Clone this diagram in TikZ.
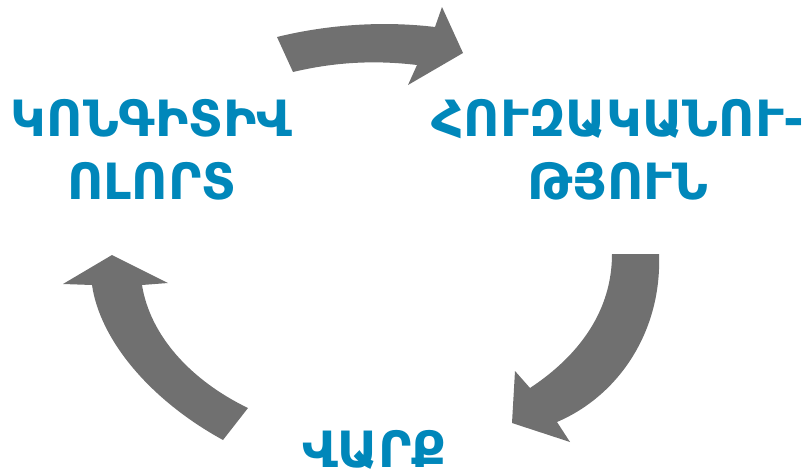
\documentclass[tikz,border=0pt]{standalone}
\usepackage{fontspec}
\newfontfamily\armfont{DejaVu Sans}
\definecolor{cycleblue}{HTML}{0087BA}
\definecolor{cyclegrey}{HTML}{707070}
\tikzset{
  cyclearrow/.style={fill=cyclegrey, draw=none},
  steptext/.style={text=cycleblue, font=\armfont\bfseries\fontsize{50}{63}\selectfont, align=center, inner sep=0pt}
}
\begin{document}
\begin{tikzpicture}[x=1pt,y=-1pt]
\useasboundingbox (0,0) rectangle (803,471);
% labels
\node [steptext] (field) at (151.5,150) {ԿՈՆԳԻՏԻՎ\\ՈԼՈՐՏ};
\node [steptext] (skill) at (618,150) {ՀՈՒԶԱԿԱՆՈՒ-\\ԹՅՈՒՆ};
\node [steptext, anchor=base] (act) at (374.5,467) {ՎԱՐՔ};
% top arrow
\fill [cyclearrow] (277,37) .. controls (330,24) and (385,21) .. (435,27)
  -- (442,7) -- (463,53) -- (408,85) -- (417,65)
  .. controls (375,60) and (335,62) .. (293,72) -- cycle;
% right arrow
\fill [cyclearrow] (612,254) -- (659,254) .. controls (662,330) and (620,395) .. (557,422)
  -- (570,442) -- (512,423) -- (515,371) -- (530,388)
  .. controls (580,355) and (612,310) .. cycle;
% left arrow
\fill [cyclearrow] (223,440) .. controls (150,400) and (100,340) .. (92,285)
  -- (63,284) -- (112,255) -- (168,283) -- (142,285)
  .. controls (150,335) and (190,380) .. (248,408) -- cycle;
\end{tikzpicture}
\end{document}
